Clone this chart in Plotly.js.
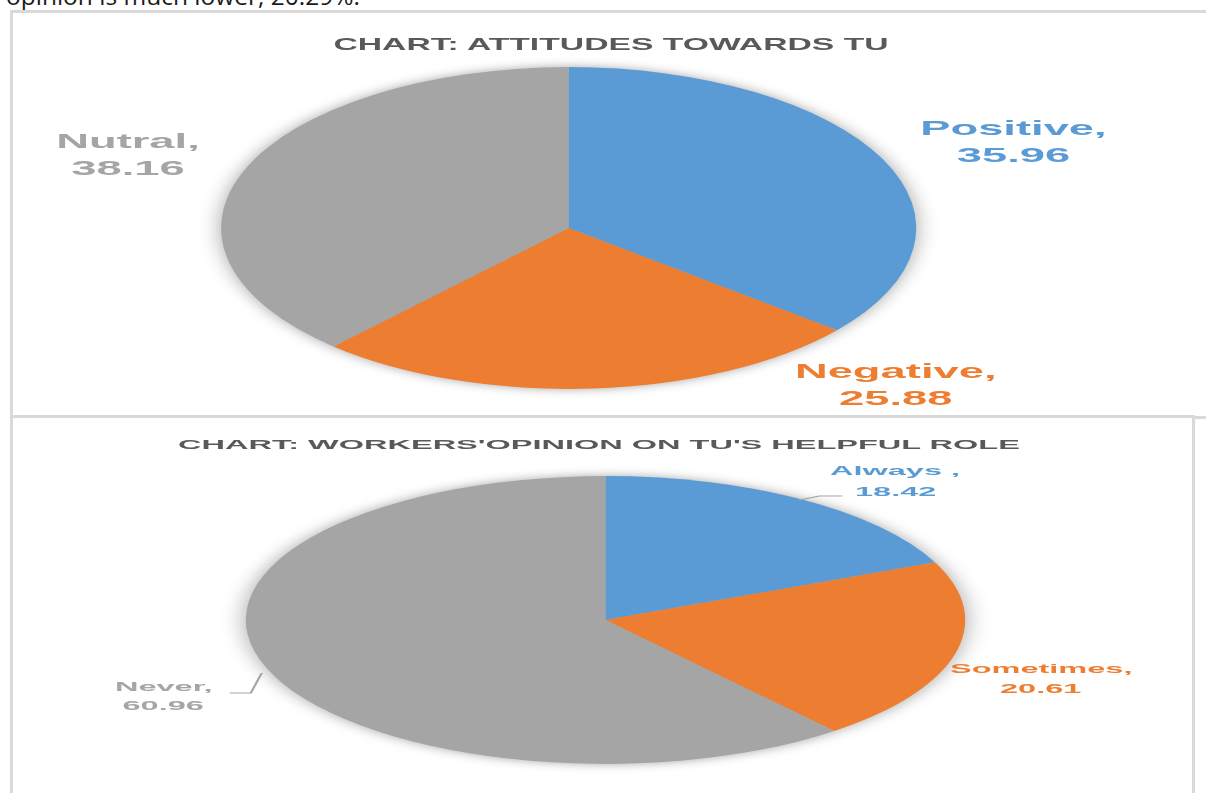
<!DOCTYPE html>
<html>
<head>
<meta charset="utf-8">
<script src="https://cdn.plot.ly/plotly-3.0.1.min.js"></script>
<style>
  html, body { margin: 0; padding: 0; background: #fff; width: 1206px; height: 793px; overflow: hidden; position: relative; }
  #lead { position: absolute; left: 6px; top: -21px; font-family: "Open Sans", sans-serif; font-size: 24.5px; color: #1a1a1a; white-space: nowrap; }
  .panel { position: absolute; box-sizing: border-box; border: 3px solid #d9d9d9; background: #fff; }
  #p1 { left: 10px; top: 10px; width: 1220px; height: 409px; }
  #p2 { left: 10px; top: 415px; width: 1185px; height: 400px; }
  .plot { position: absolute; left: 0; transform-origin: 0 0; }
  .pielayer { filter: drop-shadow(0px 0px 5px rgba(0,0,0,0.35)); }
</style>
</head>
<body>
<div id="lead">opinion is much lower, 20.29%.</div>
<div class="panel" id="p1"></div>
<div class="panel" id="p2"></div>
<div class="plot" id="c1"></div>
<div class="plot" id="c2"></div>
<script>
// ---- data ----
const topTitle = "CHART: ATTITUDES TOWARDS TU";
const topCats = ["Positive", "Negative", "Nutral"];
const topVals = [35.96, 25.88, 38.16];

const botTitle = "CHART: WORKERS'OPINION ON TU'S HELPFUL ROLE";
const botCats = ["Always ", "Sometimes", "Never"];
const botVals = [18.42, 20.61, 60.96];

const sliceColors = ["#5B9BD5", "#ED7D31", "#A5A5A5"];

const PAGE_W = 1206;
const FONT = "Liberation Sans, Arial, sans-serif";

function setup(id, top, height, scale) {
  const el = document.getElementById(id);
  el.style.top = top + "px";
  el.style.width = (PAGE_W / scale) + "px";
  el.style.height = height + "px";
  el.style.transform = "scaleX(" + scale + ")";
  return el;
}

// ---- top chart ----
(function () {
  const TOP = 0, H = 415, S = 2.16;
  const cx = 569, cy = 228, ry = 161, rx = ry * S;
  setup("c1", TOP, H, S);
  const px = (x) => x / PAGE_W;
  const py = (y) => 1 - (y - TOP) / H;
  const labelPos = [[1014, 141], [896, 384], [129, 154]];
  const annotations = topCats.map((c, i) => ({
    text: c + ",<br>" + topVals[i].toFixed(2),
    x: px(labelPos[i][0]), y: py(labelPos[i][1]),
    xref: "paper", yref: "paper", xanchor: "center", yanchor: "middle",
    showarrow: false, align: "center",
    font: { family: FONT, size: 21, color: sliceColors[i], weight: "bold" }
  }));
  Plotly.newPlot("c1", [{
    type: "pie", labels: topCats, values: topVals, sort: false,
    direction: "clockwise", rotation: 0, textinfo: "none", hoverinfo: "none",
    marker: { colors: sliceColors, line: { width: 0 } },
    domain: { x: [px(cx - rx), px(cx + rx)], y: [py(cy + ry), py(cy - ry)] }
  }], {
    width: PAGE_W / S, height: H,
    margin: { l: 0, r: 0, t: 0, b: 0 },
    paper_bgcolor: "rgba(0,0,0,0)", plot_bgcolor: "rgba(0,0,0,0)",
    showlegend: false,
    title: { text: topTitle, x: px(611), xanchor: "center", y: py(45), yanchor: "middle",
             font: { family: FONT, size: 15.6, color: "#595959", weight: "bold" } },
    annotations: annotations
  }, { staticPlot: true, displayModeBar: false });
})();

// ---- bottom chart ----
(function () {
  const TOP = 418, H = 375, S = 2.5;
  const cx = 606, cy = 620, ry = 144, rx = ry * S;
  setup("c2", TOP, H, S);
  const px = (x) => x / PAGE_W;
  const py = (y) => 1 - (y - TOP) / H;
  const labelPos = [[896, 471, 491], [1042, 668, 688], [163, 686, 705]];
  const annotations = [];
  botCats.forEach((c, i) => {
    const f = { family: FONT, size: 13, color: sliceColors[i], weight: "bold" };
    annotations.push({ text: c + ",", x: px(labelPos[i][0]), y: py(labelPos[i][1]),
      xref: "paper", yref: "paper", xanchor: "center", yanchor: "middle", showarrow: false, font: f });
    annotations.push({ text: botVals[i].toFixed(2), x: px(labelPos[i][0]), y: py(labelPos[i][2]),
      xref: "paper", yref: "paper", xanchor: "center", yanchor: "middle", showarrow: false, font: f });
  });
  const path = (pts) => pts.map((p, k) => (k ? "L" : "M") + px(p[0]) + "," + py(p[1])).join(" ");
  const shapes = [
    { type: "path", xref: "paper", yref: "paper", path: path([[800, 500], [820, 496], [843, 496]]),
      line: { color: "#A6A6A6", width: 1 } },
    { type: "path", xref: "paper", yref: "paper", path: path([[230, 693], [251, 693], [262, 673]]),
      line: { color: "#A6A6A6", width: 1 } }
  ];
  Plotly.newPlot("c2", [{
    type: "pie", labels: botCats, values: botVals, sort: false,
    direction: "clockwise", rotation: 0, textinfo: "none", hoverinfo: "none",
    marker: { colors: sliceColors, line: { width: 0 } },
    domain: { x: [px(cx - rx), px(cx + rx)], y: [py(cy + ry), py(cy - ry)] }
  }], {
    width: PAGE_W / S, height: H,
    margin: { l: 0, r: 0, t: 0, b: 0 },
    paper_bgcolor: "rgba(0,0,0,0)", plot_bgcolor: "rgba(0,0,0,0)",
    showlegend: false,
    title: { text: botTitle, x: px(599), xanchor: "center", y: py(444), yanchor: "middle",
             font: { family: FONT, size: 13, color: "#595959", weight: "bold" } },
    annotations: annotations,
    shapes: shapes
  }, { staticPlot: true, displayModeBar: false });
})();
</script>
</body>
</html>
